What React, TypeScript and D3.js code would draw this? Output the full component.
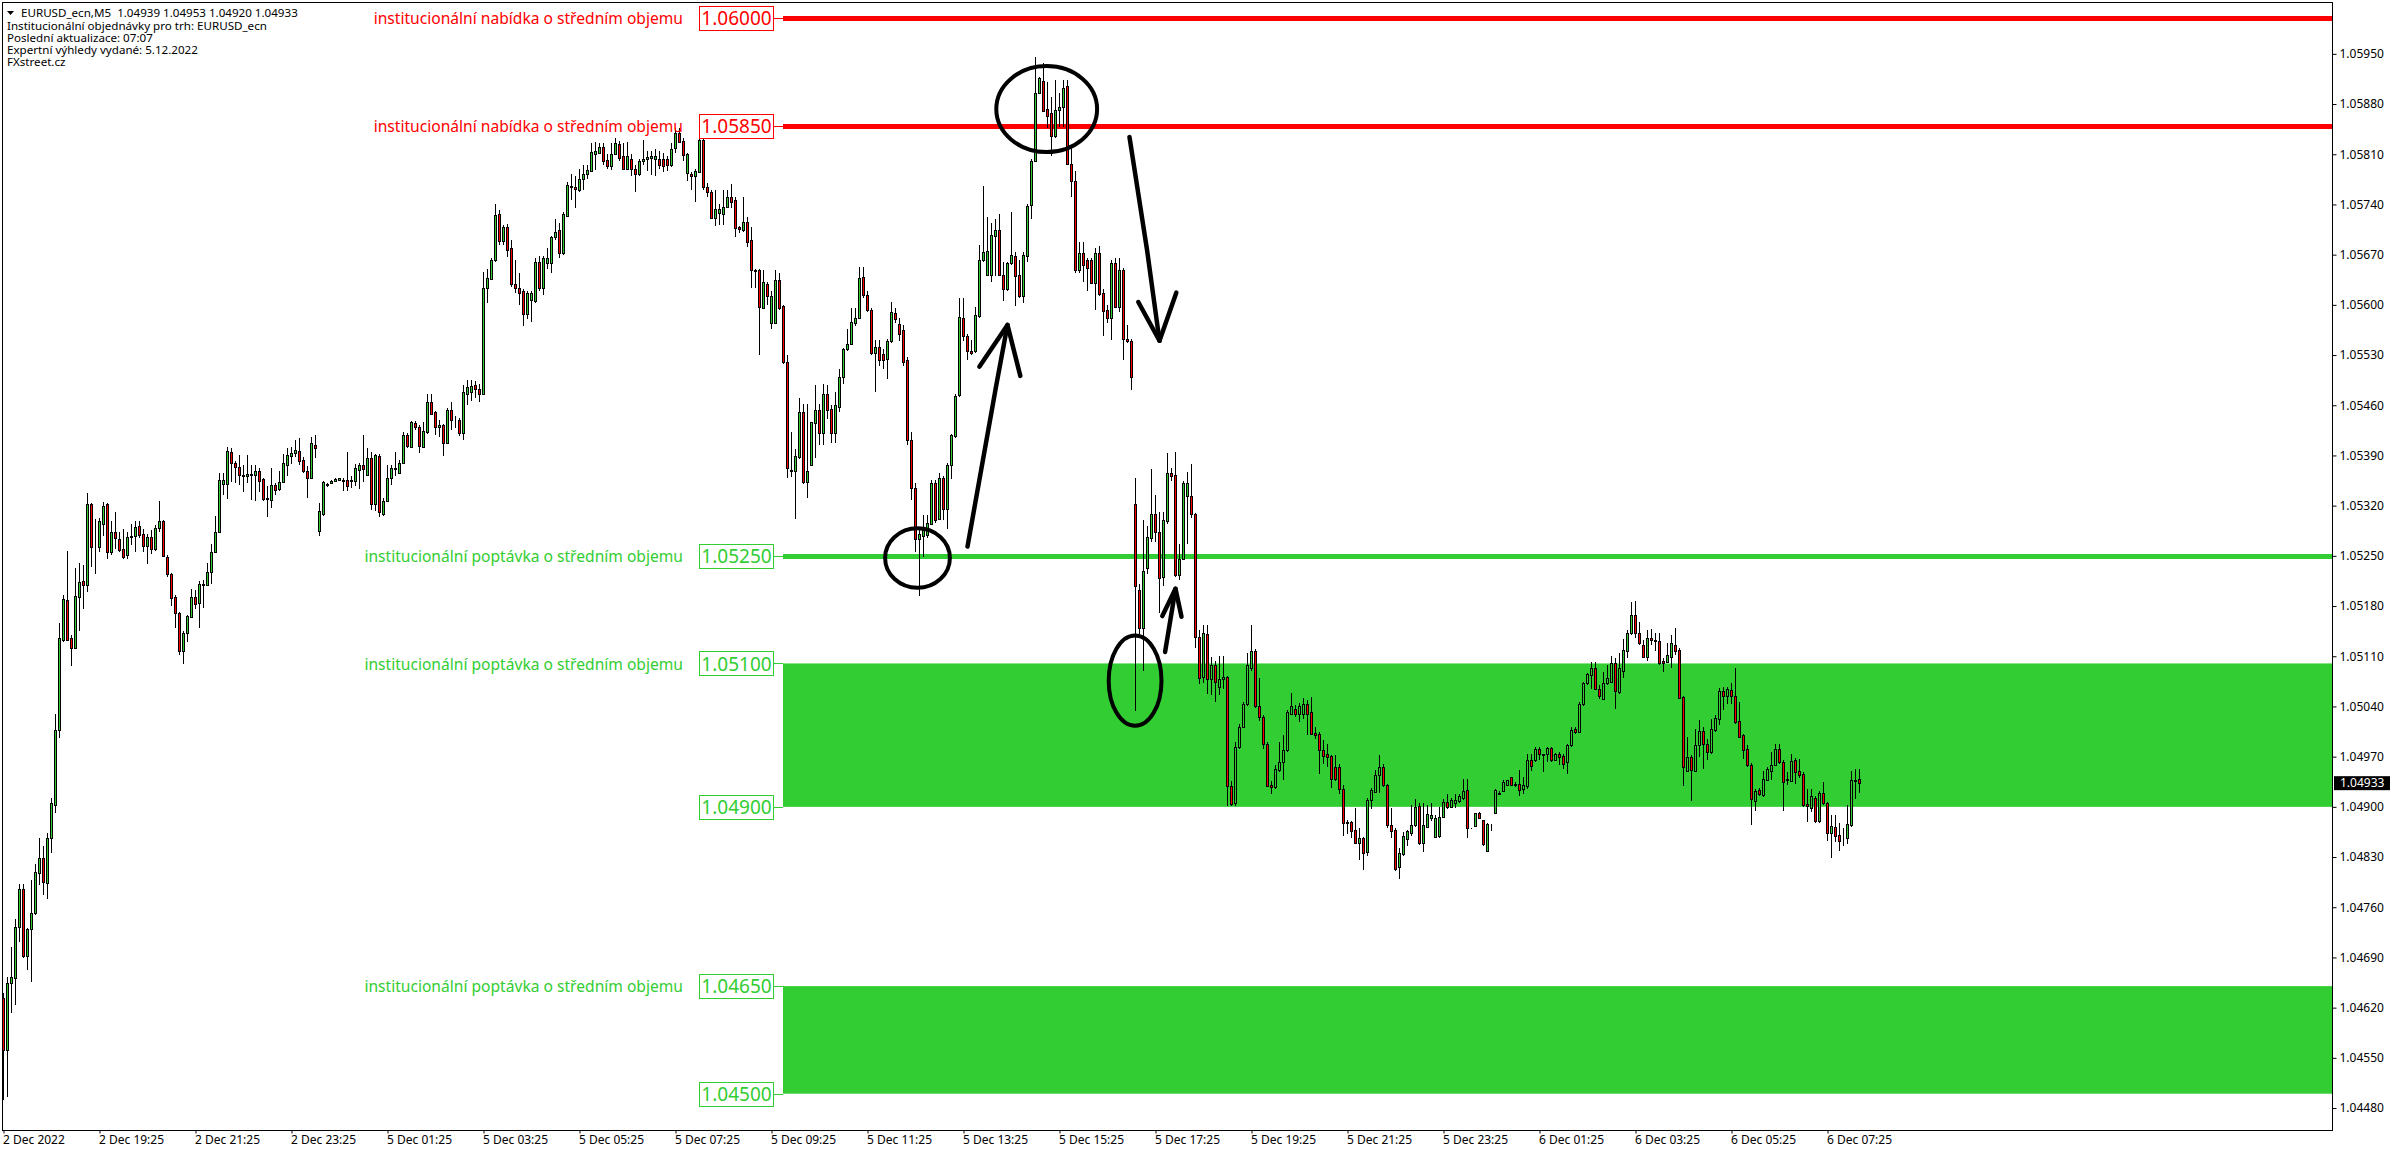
import * as d3 from 'd3';
import React, { useEffect, useRef } from 'react';

type Bar = [number, number, number, number];

// open, high, low, close in points above 1.04000
const dec2Bars: Bar[] = [
  [634, 640, 491, 561], [561, 663, 496, 655], [655, 705, 612, 663], [662, 743, 623, 732], [732, 793, 712, 785],
  [785, 793, 689, 692], [692, 731, 672, 729], [729, 798, 656, 752], [752, 821, 749, 809], [808, 856, 791, 829],
  [828, 846, 777, 795], [794, 863, 771, 856], [856, 913, 835, 905], [903, 1029, 891, 1007], [1007, 1157, 996, 1136],
  [1132, 1196, 1130, 1190], [1189, 1257, 1132, 1133], [1136, 1140, 1097, 1121], [1121, 1233, 1120, 1194], [1193, 1240, 1145, 1214],
  [1215, 1237, 1176, 1209], [1209, 1338, 1200, 1322], [1322, 1323, 1234, 1262], [1263, 1302, 1225, 1262], [1262, 1303, 1255, 1298],
  [1295, 1325, 1278, 1320], [1322, 1324, 1246, 1256], [1255, 1298, 1251, 1283], [1283, 1311, 1260, 1275], [1274, 1283, 1256, 1258],
  [1259, 1288, 1245, 1249], [1251, 1283, 1246, 1276], [1276, 1295, 1265, 1278], [1278, 1298, 1256, 1290], [1291, 1298, 1275, 1279],
  [1280, 1287, 1255, 1264], [1264, 1280, 1238, 1276], [1276, 1286, 1253, 1259], [1259, 1293, 1257, 1289], [1289, 1326, 1283, 1298],
  [1298, 1300, 1248, 1250], [1249, 1251, 1221, 1224], [1225, 1226, 1180, 1191], [1192, 1196, 1150, 1170], [1171, 1172, 1112, 1118],
  [1118, 1145, 1099, 1142], [1142, 1168, 1130, 1166], [1165, 1204, 1163, 1192], [1192, 1202, 1176, 1183], [1184, 1215, 1150, 1211],
  [1210, 1216, 1177, 1211], [1210, 1240, 1209, 1227], [1228, 1267, 1211, 1256], [1256, 1305, 1255, 1283], [1283, 1365, 1282, 1356],
  [1350, 1365, 1335, 1356], [1350, 1402, 1329, 1396], [1395, 1400, 1353, 1380], [1380, 1382, 1351, 1374], [1374, 1390, 1349, 1363],
  [1363, 1376, 1339, 1362], [1362, 1390, 1351, 1364], [1363, 1376, 1328, 1364], [1363, 1376, 1326, 1369], [1369, 1372, 1339, 1355],
  [1357, 1358, 1326, 1329], [1330, 1348, 1304, 1329], [1328, 1372, 1317, 1349], [1349, 1352, 1335, 1342], [1343, 1369, 1341, 1353],
  [1353, 1392, 1352, 1379], [1377, 1400, 1362, 1391], [1389, 1402, 1378, 1394], [1394, 1411, 1388, 1397], [1396, 1414, 1376, 1382],
  [1383, 1388, 1365, 1368], [1369, 1375, 1331, 1359], [1358, 1416, 1357, 1408], [1405, 1419, 1386, 1400],
];

const dec5AsiaBars: Bar[] = [
  [1284, 1323, 1278, 1313], [1308, 1355, 1305, 1353], [1349, 1352, 1346, 1350], [1352, 1356, 1350, 1355], [1355, 1358, 1354, 1357],
  [1356, 1359, 1354, 1358], [1356, 1358, 1340, 1355], [1356, 1395, 1340, 1347], [1354, 1362, 1345, 1356], [1355, 1378, 1348, 1372],
  [1370, 1380, 1343, 1376], [1376, 1418, 1353, 1371], [1363, 1400, 1362, 1387], [1387, 1395, 1314, 1322], [1322, 1392, 1312, 1390],
  [1389, 1392, 1304, 1311], [1309, 1330, 1306, 1327], [1327, 1376, 1326, 1359], [1359, 1376, 1349, 1372], [1371, 1395, 1362, 1373],
  [1366, 1384, 1364, 1379], [1379, 1423, 1378, 1418], [1418, 1422, 1400, 1403], [1402, 1438, 1400, 1436], [1435, 1438, 1425, 1430],
  [1430, 1432, 1393, 1403], [1402, 1437, 1400, 1424], [1423, 1476, 1420, 1464], [1464, 1476, 1446, 1448], [1450, 1452, 1418, 1429],
  [1430, 1440, 1416, 1433], [1432, 1434, 1389, 1408], [1408, 1456, 1407, 1454], [1453, 1464, 1425, 1439], [1439, 1445, 1428, 1440],
  [1440, 1442, 1417, 1421], [1421, 1488, 1411, 1478], [1476, 1495, 1460, 1486], [1479, 1495, 1466, 1487], [1488, 1494, 1470, 1482],
  [1483, 1490, 1465, 1475], [1475, 1646, 1474, 1623], [1623, 1650, 1603, 1637], [1636, 1665, 1635, 1663], [1662, 1741, 1660, 1725],
  [1726, 1732, 1683, 1689], [1689, 1712, 1684, 1709], [1708, 1713, 1667, 1677], [1679, 1690, 1625, 1629], [1629, 1662, 1616, 1623],
  [1623, 1644, 1600, 1616], [1619, 1622, 1571, 1587], [1587, 1620, 1580, 1616], [1607, 1620, 1576, 1616], [1605, 1666, 1603, 1660],
  [1660, 1668, 1620, 1623], [1623, 1668, 1614, 1666], [1658, 1679, 1650, 1665], [1658, 1696, 1645, 1694], [1694, 1720, 1690, 1702],
  [1704, 1714, 1665, 1672], [1672, 1729, 1670, 1726], [1724, 1772, 1722, 1767], [1764, 1783, 1746, 1766], [1765, 1779, 1735, 1761],
  [1760, 1790, 1757, 1776], [1776, 1795, 1760, 1782], [1783, 1795, 1775, 1788], [1786, 1825, 1785, 1813], [1811, 1827, 1788, 1814],
  [1812, 1825, 1810, 1820], [1820, 1825, 1795, 1800], [1802, 1810, 1790, 1794], [1794, 1825, 1788, 1811], [1811, 1832, 1810, 1825],
  [1824, 1828, 1800, 1805], [1808, 1825, 1788, 1790], [1790, 1827, 1788, 1807], [1804, 1811, 1780, 1790], [1790, 1795, 1758, 1782],
  [1782, 1804, 1780, 1800], [1800, 1830, 1795, 1804], [1803, 1815, 1786, 1806], [1805, 1815, 1781, 1807], [1803, 1818, 1779, 1807],
  [1804, 1815, 1790, 1795], [1803, 1812, 1785, 1793], [1803, 1807, 1786, 1795], [1795, 1825, 1792, 1818], [1819, 1846, 1812, 1839],
  [1839, 1846, 1825, 1827], [1829, 1832, 1800, 1809], [1784, 1812, 1773, 1810], [1783, 1785, 1760, 1780], [1779, 1790, 1744, 1786],
  [1785, 1835, 1784, 1830], [1830, 1835, 1760, 1765], [1765, 1770, 1750, 1758], [1758, 1760, 1720, 1721], [1721, 1760, 1710, 1733],
  [1728, 1740, 1711, 1733], [1726, 1760, 1712, 1737], [1737, 1760, 1735, 1750], [1750, 1768, 1735, 1744], [1746, 1750, 1695, 1707],
  [1708, 1710, 1700, 1706], [1704, 1751, 1702, 1716], [1715, 1723, 1680, 1687], [1690, 1709, 1623, 1648], [1648, 1650, 1623, 1647],
  [1648, 1650, 1530, 1597], [1595, 1649, 1595, 1632],
];

const dec5EuropeBars: Bar[] = [
  [1629, 1632, 1600, 1612], [1574, 1620, 1567, 1613], [1574, 1649, 1574, 1635], [1635, 1644, 1593, 1596], [1599, 1600, 1518, 1521],
  [1521, 1530, 1358, 1372], [1368, 1423, 1360, 1370], [1369, 1399, 1302, 1389], [1388, 1470, 1385, 1451], [1450, 1462, 1350, 1353],
  [1353, 1462, 1331, 1369], [1376, 1437, 1375, 1436], [1435, 1488, 1387, 1454], [1454, 1462, 1405, 1421], [1421, 1490, 1405, 1475],
  [1475, 1488, 1441, 1454], [1455, 1460, 1407, 1421], [1421, 1478, 1407, 1460], [1458, 1510, 1450, 1500], [1500, 1540, 1490, 1539],
  [1539, 1567, 1535, 1546], [1546, 1595, 1544, 1576], [1575, 1595, 1570, 1581], [1582, 1653, 1580, 1638], [1639, 1653, 1610, 1614],
  [1614, 1620, 1590, 1593], [1593, 1595, 1530, 1533], [1533, 1551, 1478, 1541], [1541, 1551, 1515, 1523], [1532, 1539, 1511, 1523],
  [1524, 1552, 1497, 1549], [1549, 1604, 1547, 1590], [1588, 1595, 1575, 1580], [1573, 1582, 1549, 1560], [1565, 1572, 1515, 1521],
  [1523, 1527, 1405, 1411], [1411, 1423, 1328, 1344], [1345, 1351, 1256, 1273], [1273, 1288, 1194, 1280], [1278, 1307, 1249, 1286],
  [1279, 1307, 1275, 1296], [1295, 1356, 1293, 1352], [1352, 1356, 1296, 1300], [1301, 1365, 1300, 1359], [1358, 1362, 1300, 1316],
  [1316, 1380, 1288, 1376], [1376, 1420, 1357, 1418], [1417, 1475, 1415, 1473], [1474, 1609, 1472, 1583], [1582, 1609, 1550, 1556],
  [1557, 1560, 1523, 1535], [1535, 1551, 1530, 1533], [1535, 1597, 1533, 1586], [1584, 1684, 1582, 1662], [1662, 1766, 1660, 1674],
  [1641, 1723, 1640, 1675], [1642, 1714, 1632, 1698], [1696, 1720, 1640, 1705], [1705, 1727, 1640, 1642], [1642, 1660, 1606, 1622],
  [1622, 1660, 1620, 1659], [1659, 1730, 1656, 1669], [1668, 1674, 1599, 1640], [1641, 1662, 1610, 1613], [1612, 1674, 1603, 1669],
  [1668, 1740, 1660, 1738], [1739, 1803, 1720, 1801], [1801, 1945, 1800, 1896], [1896, 1918, 1895, 1917], [1912, 1937, 1870, 1871],
  [1873, 1911, 1846, 1864], [1867, 1890, 1807, 1835], [1835, 1913, 1833, 1872], [1872, 1895, 1848, 1876], [1876, 1914, 1848, 1903],
  [1905, 1914, 1795, 1797], [1797, 1820, 1751, 1773], [1773, 1786, 1645, 1648], [1648, 1688, 1645, 1673], [1673, 1688, 1632, 1655],
  [1662, 1665, 1620, 1652], [1663, 1665, 1630, 1631], [1631, 1679, 1593, 1673], [1673, 1682, 1613, 1615], [1616, 1622, 1556, 1592],
  [1593, 1600, 1575, 1581], [1581, 1662, 1551, 1659], [1659, 1665, 1595, 1597], [1597, 1665, 1590, 1649], [1648, 1652, 1523, 1553],
  [1553, 1572, 1547, 1549], [1550, 1552, 1481, 1500],
];

const dec5UsBars: Bar[] = [
  [1322, 1358, 1034, 1208], [1203, 1211, 1137, 1150], [1150, 1300, 1090, 1229], [1233, 1292, 1225, 1276], [1275, 1371, 1270, 1309],
  [1309, 1335, 1270, 1283], [1283, 1311, 1170, 1219], [1221, 1311, 1208, 1300], [1299, 1394, 1295, 1365], [1365, 1372, 1355, 1362],
  [1363, 1395, 1221, 1223], [1223, 1267, 1216, 1246], [1246, 1354, 1244, 1351], [1334, 1367, 1266, 1352], [1333, 1378, 1303, 1309],
  [1309, 1310, 1121, 1137], [1137, 1146, 1071, 1080], [1081, 1154, 1073, 1142], [1141, 1153, 1058, 1078], [1078, 1109, 1056, 1098],
  [1098, 1104, 1046, 1074], [1067, 1111, 1056, 1078], [1078, 1111, 1065, 1081], [1081, 1083, 901, 929], [929, 936, 901, 904],
  [905, 990, 901, 984], [984, 1016, 980, 1012], [1012, 1046, 1012, 1044], [1043, 1114, 1040, 1098], [1094, 1153, 1090, 1118],
  [1118, 1120, 1038, 1041], [1041, 1079, 1020, 1025], [1025, 1028, 980, 987], [987, 990, 927, 929], [930, 936, 918, 927],
  [927, 958, 925, 953], [951, 990, 948, 962], [963, 1000, 938, 979], [979, 1035, 977, 1032], [1030, 1059, 1028, 1041],
  [1037, 1042, 1025, 1030], [1030, 1045, 1018, 1041], [1030, 1052, 1022, 1044], [1044, 1049, 1000, 1030], [1032, 1053, 1000, 1002],
  [1003, 1011, 995, 1000], [1001, 1005, 946, 979], [979, 993, 960, 971], [973, 988, 955, 970], [971, 972, 926, 939],
  [956, 972, 936, 939], [955, 960, 918, 925], [925, 930, 860, 878], [879, 881, 862, 877], [879, 880, 856, 867],
  [868, 898, 848, 850], [850, 870, 826, 856], [856, 858, 812, 836], [837, 912, 832, 910], [910, 926, 897, 923],
  [921, 952, 920, 945], [945, 972, 920, 955], [955, 960, 928, 930], [930, 932, 871, 874], [874, 898, 856, 866],
  [868, 870, 811, 814], [816, 843, 799, 835], [834, 865, 832, 860], [855, 868, 845, 866], [863, 902, 860, 874],
  [874, 911, 872, 900], [901, 905, 847, 849], [849, 905, 837, 874], [872, 902, 870, 890], [884, 905, 880, 888],
  [858, 888, 856, 884], [859, 900, 856, 886], [886, 911, 884, 907], [907, 918, 897, 900], [900, 912, 898, 909],
  [905, 918, 898, 909], [908, 918, 905, 915], [913, 939, 910, 922], [923, 939, 856, 870], [870, 871, 869, 870],
  [873, 892, 873, 892], [892, 893, 884, 885], [881, 882, 846, 848], [839, 877, 838, 876], [875, 876, 866, 875],
];

const dec6Bars: Bar[] = [
  [892, 925, 890, 923], [918, 922, 917, 919], [922, 937, 921, 935], [931, 938, 930, 937], [941, 942, 929, 930],
  [932, 935, 928, 931], [932, 951, 915, 923], [925, 942, 918, 930], [929, 974, 925, 966], [966, 973, 950, 957],
  [965, 984, 963, 980], [980, 984, 965, 974], [973, 974, 949, 972], [973, 984, 962, 982], [982, 984, 963, 965],
  [965, 975, 964, 974], [974, 977, 958, 969], [971, 974, 953, 960], [963, 987, 946, 986], [986, 1012, 984, 1007],
  [1009, 1012, 1002, 1005], [1004, 1046, 1003, 1044], [1043, 1074, 1040, 1072], [1072, 1087, 1070, 1085], [1084, 1102, 1064, 1094],
  [1094, 1102, 1063, 1065], [1065, 1070, 1050, 1054], [1051, 1088, 1049, 1073], [1072, 1098, 1070, 1079], [1074, 1111, 1073, 1101],
  [1101, 1107, 1037, 1062], [1060, 1114, 1058, 1093], [1090, 1134, 1079, 1119], [1118, 1146, 1108, 1143], [1142, 1186, 1139, 1167],
  [1167, 1187, 1135, 1142], [1142, 1158, 1126, 1128], [1125, 1132, 1107, 1109], [1109, 1146, 1103, 1136], [1135, 1148, 1125, 1132],
  [1132, 1143, 1117, 1131], [1131, 1143, 1098, 1101], [1103, 1107, 1088, 1100], [1102, 1128, 1100, 1112], [1109, 1139, 1093, 1128],
  [1125, 1149, 1112, 1118], [1119, 1121, 1050, 1052], [1053, 1054, 929, 955], [950, 998, 948, 969], [969, 972, 908, 951],
  [950, 1008, 948, 986], [986, 1021, 970, 1006], [1006, 1012, 953, 987], [987, 995, 965, 977], [976, 1023, 974, 1008],
  [1007, 1028, 1005, 1024], [1023, 1066, 1014, 1061], [1062, 1067, 1035, 1055], [1054, 1067, 1044, 1064], [1063, 1072, 1044, 1055],
  [1055, 1093, 1016, 1019], [1020, 1046, 996, 998], [1000, 1002, 967, 979], [980, 986, 955, 958], [959, 961, 874, 911],
  [908, 925, 894, 922], [924, 926, 915, 918], [916, 950, 914, 939], [938, 955, 936, 953], [950, 977, 938, 959],
  [959, 988, 957, 981], [981, 987, 960, 963], [963, 965, 894, 935], [939, 949, 930, 937], [936, 974, 935, 964],
  [965, 968, 932, 949], [950, 967, 940, 944], [946, 948, 900, 902], [904, 925, 879, 901], [899, 925, 893, 915],
  [913, 915, 878, 880], [880, 922, 878, 919], [919, 934, 903, 905], [905, 907, 853, 863], [863, 888, 829, 873],
  [872, 888, 851, 859], [861, 877, 839, 852], [854, 870, 845, 854], [856, 902, 848, 876], [874, 950, 872, 937],
  [936, 953, 911, 937], [939, 953, 920, 933],
];

const bars: Bar[] = [...dec2Bars, ...dec5AsiaBars, ...dec5EuropeBars, ...dec5UsBars, ...dec6Bars];

const priceTicks = [
  1.0595, 1.0588, 1.0581, 1.0574, 1.0567, 1.056, 1.0553, 1.0546, 1.0539, 1.0532, 1.0525, 1.0518, 1.0511, 1.0504, 1.0497,
  1.049, 1.0483, 1.0476, 1.0469, 1.0462, 1.0455, 1.0448,
];
const timeLabels = [
  '2 Dec 2022', '2 Dec 19:25', '2 Dec 21:25', '2 Dec 23:25', '5 Dec 01:25', '5 Dec 03:25', '5 Dec 05:25', '5 Dec 07:25',
  '5 Dec 09:25', '5 Dec 11:25', '5 Dec 13:25', '5 Dec 15:25', '5 Dec 17:25', '5 Dec 19:25', '5 Dec 21:25', '5 Dec 23:25',
  '6 Dec 01:25', '6 Dec 03:25', '6 Dec 05:25', '6 Dec 07:25',
];
const BARS_PER_TICK = 24;
const lastPrice = 1.04933;

const headerLines = [
  'Institucionální objednávky pro trh: EURUSD_ecn',
  'Poslední aktualizace: 07:07',
  'Expertní výhledy vydané: 5.12.2022',
  'FXstreet.cz',
];
const headerTitle = 'EURUSD_ecn,M5  1.04939 1.04953 1.04920 1.04933';

const supplyText = 'institucionální nabídka o středním objemu';
const demandText = 'institucionální poptávka o středním objemu';
const supplyLines = [1.06, 1.0585];
const demandLines = [1.0525];
const demandZones: [number, number][] = [
  [1.051, 1.049],
  [1.0465, 1.045],
];

// hand drawn marks, [bar index, points above 1.04000]
const circles = [
  { bar: 260.8, pts: 1873, rxBars: 12.6, ryPts: 60 },
  { bar: 228.5, pts: 1247, rxBars: 8.1, ryPts: 41.5 },
  { bar: 282.9, pts: 1076, rxBars: 6.6, ryPts: 63 },
];
const arrows: [number, number][][] = [
  [[241, 1263], [248.2, 1488], [251, 1572]],
  [[244, 1514], [251, 1572], [254.2, 1501]],
  [[281.5, 1834], [285.9, 1676], [289, 1550]],
  [[283.7, 1604], [289, 1550], [293.2, 1617]],
  [[290.4, 1116], [293, 1204]],
  [[289.7, 1166], [293, 1204], [294.5, 1165]],
];

const width = 2396;
const height = 1154;
const RED = '#ff0000';
const GREEN = '#32cd32';
const FONT = '"Noto Sans", sans-serif';
const plot = { left: 2.5, top: 2.5, right: 2332.5, bottom: 1130.5 };
const levelLeft = 783;

const toPrice = (pts: number) => 1.04 + pts / 100000;

const App: React.FC = () => {
  const ref = useRef<SVGSVGElement>(null);
  useEffect(() => {
    const svg = d3.select(ref.current);
    svg.selectAll('*').remove();

    const x = d3.scaleLinear().domain([0, 464]).range([3.5, 1859.5]);
    const y = d3.scaleLinear().domain([1.045, 1.06]).range([1093.7, 18]);
    const snap = (v: number) => Math.round(v) + 0.5;

    // zones and level lines sit under the candles
    svg
      .append('g')
      .selectAll('rect')
      .data(demandZones)
      .join('rect')
      .attr('x', levelLeft)
      .attr('y', (d) => y(d[0]))
      .attr('width', plot.right - levelLeft)
      .attr('height', (d) => y(d[1]) - y(d[0]))
      .attr('fill', GREEN);

    const levels = [
      ...supplyLines.map((p) => ({ p, color: RED })),
      ...demandLines.map((p) => ({ p, color: GREEN })),
    ];
    svg
      .append('g')
      .selectAll('line')
      .data(levels)
      .join('line')
      .attr('x1', levelLeft)
      .attr('x2', plot.right)
      .attr('y1', (d) => y(d.p) + 0.5)
      .attr('y2', (d) => y(d.p) + 0.5)
      .attr('stroke', (d) => d.color)
      .attr('stroke-width', 5)
      .attr('shape-rendering', 'crispEdges');

    // candles
    const candles = svg.append('g').attr('shape-rendering', 'crispEdges');
    candles
      .selectAll('line')
      .data(bars)
      .join('line')
      .attr('x1', (_, i) => x(i))
      .attr('x2', (_, i) => x(i))
      .attr('y1', (d) => y(toPrice(d[1])))
      .attr('y2', (d) => y(toPrice(d[2])))
      .attr('stroke', '#000')
      .attr('stroke-width', 1);
    candles
      .selectAll('rect')
      .data(bars)
      .join('rect')
      .attr('x', (_, i) => x(i) - 1)
      .attr('width', 2)
      .attr('y', (d) => snap(y(toPrice(Math.max(d[0], d[3])))))
      .attr('height', (d) => Math.abs(snap(y(toPrice(d[0]))) - snap(y(toPrice(d[3])))))
      .attr('fill', (d) => (d[3] >= d[0] ? GREEN : RED))
      .attr('stroke', '#000')
      .attr('stroke-width', 1);

    // frame and axes
    svg
      .append('rect')
      .attr('x', plot.left)
      .attr('y', plot.top)
      .attr('width', plot.right - plot.left)
      .attr('height', plot.bottom - plot.top)
      .attr('fill', 'none')
      .attr('stroke', '#000')
      .attr('shape-rendering', 'crispEdges');

    const yAxis = d3
      .axisRight(y)
      .tickValues(priceTicks)
      .tickSize(4)
      .tickPadding(3)
      .tickFormat((d) => d3.format('.5f')(d as number));
    svg
      .append('g')
      .attr('transform', `translate(${plot.right},0)`)
      .call(yAxis as any)
      .call((g: any) => g.select('.domain').remove())
      .call((g: any) => g.selectAll('text').attr('font-family', FONT).attr('font-size', 12).attr('fill', '#000'));

    const tickBars = timeLabels.map((_, i) => i * BARS_PER_TICK);
    const xAxis = d3
      .axisBottom(x)
      .tickValues(tickBars)
      .tickSize(3)
      .tickPadding(3)
      .tickFormat((_, i) => timeLabels[i]);
    svg
      .append('g')
      .attr('transform', `translate(0,${plot.bottom})`)
      .call(xAxis as any)
      .call((g: any) => g.select('.domain').remove())
      .call((g: any) =>
        g
          .selectAll('text')
          .attr('font-family', FONT)
          .attr('font-size', 12)
          .attr('fill', '#000')
          .attr('text-anchor', 'start')
          .attr('dx', -1)
          .attr('dy', '0.62em')
      );

    // current price tag
    svg
      .append('rect')
      .attr('x', plot.right + 1.5)
      .attr('y', y(lastPrice) - 7)
      .attr('width', 56)
      .attr('height', 14)
      .attr('fill', '#000');
    svg
      .append('text')
      .attr('x', plot.right + 7.5)
      .attr('y', y(lastPrice))
      .attr('dy', '0.32em')
      .attr('font-family', FONT)
      .attr('font-size', 12)
      .attr('fill', '#fff')
      .text(d3.format('.5f')(lastPrice));

    // level boxes on the left of the lines
    const boxes = [
      ...supplyLines.map((p) => ({ p, color: RED, text: supplyText })),
      ...demandLines.map((p) => ({ p, color: GREEN, text: demandText })),
      ...demandZones.flatMap(([top, bottom]) => [
        { p: top, color: GREEN, text: demandText },
        { p: bottom, color: GREEN, text: '' },
      ]),
    ];
    const box = svg.append('g').selectAll('g').data(boxes).join('g');
    box
      .append('rect')
      .attr('x', 699.5)
      .attr('y', (d) => snap(y(d.p) - 12))
      .attr('width', 74)
      .attr('height', 24)
      .attr('fill', '#fff')
      .attr('stroke', (d) => d.color)
      .attr('shape-rendering', 'crispEdges');
    box
      .append('line')
      .attr('x1', 773.5)
      .attr('x2', levelLeft)
      .attr('y1', (d) => snap(y(d.p)))
      .attr('y2', (d) => snap(y(d.p)))
      .attr('stroke', (d) => d.color)
      .attr('shape-rendering', 'crispEdges');
    box
      .append('text')
      .attr('x', 736.5)
      .attr('y', (d) => y(d.p) + 0.5)
      .attr('dy', '0.36em')
      .attr('text-anchor', 'middle')
      .attr('font-family', FONT)
      .attr('font-size', 19)
      .attr('fill', (d) => d.color)
      .text((d) => d3.format('.5f')(d.p));
    box
      .filter((d) => d.text !== '')
      .append('text')
      .attr('x', 683)
      .attr('y', (d) => y(d.p) + 0.5)
      .attr('dy', '0.36em')
      .attr('text-anchor', 'end')
      .attr('font-family', FONT)
      .attr('font-size', 15.6)
      .attr('fill', (d) => d.color)
      .text((d) => d.text);

    // header
    svg
      .append('path')
      .attr('d', 'M7,11 L14,11 L10.5,15 Z')
      .attr('fill', '#000');
    svg
      .append('text')
      .attr('x', 21)
      .attr('y', 16.5)
      .attr('font-family', FONT)
      .attr('font-size', 11.6)
      .style('white-space', 'pre')
      .text(headerTitle);
    svg
      .append('g')
      .selectAll('text')
      .data(headerLines)
      .join('text')
      .attr('x', 7)
      .attr('y', (_, i) => 30 + i * 12)
      .attr('font-family', FONT)
      .attr('font-size', 11.6)
      .text((d) => d);

    // hand drawn marks
    svg
      .append('g')
      .selectAll('ellipse')
      .data(circles)
      .join('ellipse')
      .attr('cx', (d) => x(d.bar))
      .attr('cy', (d) => y(toPrice(d.pts)))
      .attr('rx', (d) => x(d.rxBars) - x(0))
      .attr('ry', (d) => y(toPrice(0)) - y(toPrice(d.ryPts)))
      .attr('fill', 'none')
      .attr('stroke', '#000')
      .attr('stroke-width', 4);
    const arrowLine = d3
      .line<[number, number]>()
      .x((d) => x(d[0]))
      .y((d) => y(toPrice(d[1])));
    svg
      .append('g')
      .selectAll('path')
      .data(arrows)
      .join('path')
      .attr('d', (d) => arrowLine(d))
      .attr('fill', 'none')
      .attr('stroke', '#000')
      .attr('stroke-width', 4.5)
      .attr('stroke-linecap', 'round')
      .attr('stroke-linejoin', 'round');
  }, []);
  return (
    <svg
      ref={ref}
      width={width}
      height={height}
      style={{ position: 'absolute', left: 0, top: 0, background: '#fff' }}
    ></svg>
  );
};
export default App;
